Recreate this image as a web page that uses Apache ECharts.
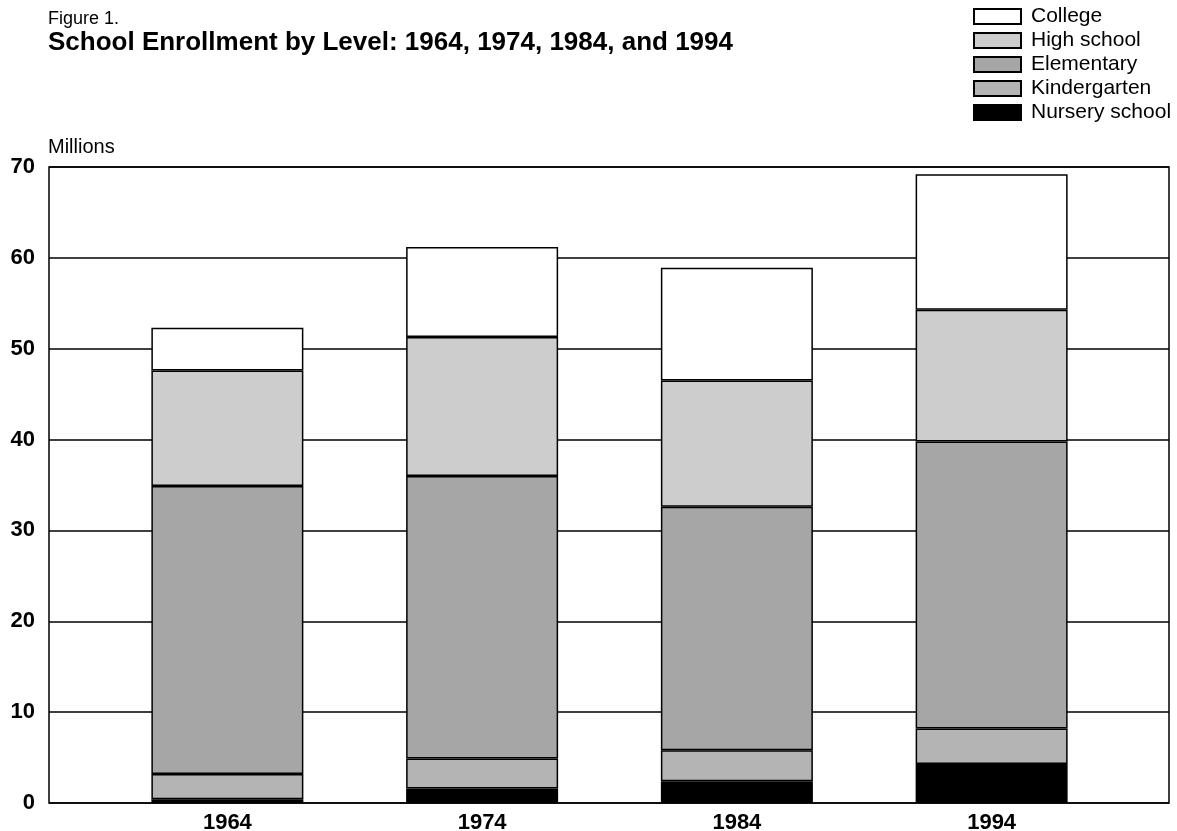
<!DOCTYPE html>
<html>
<head>
<meta charset="utf-8">
<script src="https://cdn.jsdelivr.net/npm/echarts@6/dist/echarts.min.js"></script>
<style>
html,body{margin:0;padding:0;background:#fff}
#chart{width:1177px;height:831px}
</style>
</head>
<body>
<div id="chart"></div>
<script>
// values in millions
const years = ['1964', '1974', '1984', '1994']
const nursery = [0.4, 1.6, 2.4, 4.3]
const kindergarten = [2.8, 3.3, 3.4, 3.9]
const elementary = [31.7, 31.1, 26.8, 31.6]
const highSchool = [12.7, 15.3, 13.9, 14.5]
const college = [4.7, 9.9, 12.4, 14.9]
const yTicks = [0, 10, 20, 30, 40, 50, 60, 70]

const font = 'Liberation Sans, Arial, sans-serif'
const yMin = yTicks[0]
const yMax = yTicks[yTicks.length - 1]
const yStep = yTicks[1] - yTicks[0]

function level (name, data, color) {
  return {
    name: name,
    type: 'bar',
    stack: 'total',
    xAxisIndex: 1,
    yAxisIndex: 1,
    barWidth: 152,
    data: data,
    itemStyle: { color: color, borderColor: '#000', borderWidth: 1.5 }
  }
}

const chart = echarts.init(document.getElementById('chart'))

const options = {
  backgroundColor: '#fff',
  animation: false,
  title: [
    { text: 'Figure 1.', left: 48, top: 10, padding: 0,
      textStyle: { fontFamily: font, fontSize: 18, fontWeight: 'normal', color: '#000' } },
    { text: 'School Enrollment by Level: 1964, 1974, 1984, and 1994', left: 48, top: 30, padding: 0,
      textStyle: { fontFamily: font, fontSize: 26, fontWeight: 'bold', color: '#000' } },
    { text: 'Millions', left: 48, top: 137, padding: 0,
      textStyle: { fontFamily: font, fontSize: 20, fontWeight: 'normal', color: '#000' } }
  ],
  legend: {
    orient: 'vertical',
    left: 973,
    top: 6,
    padding: 0,
    icon: 'rect',
    itemWidth: 47,
    itemHeight: 15,
    itemGap: 3,
    data: ['College', 'High school', 'Elementary', 'Kindergarten', 'Nursery school'],
    textStyle: { fontFamily: font, fontSize: 21, color: '#000', padding: [0, 0, 0, 5] }
  },
  grid: [
    // frame with gridlines
    { left: 49, right: 8, top: 167, bottom: 28, outerBoundsMode: 'none', show: true, borderColor: '#000', borderWidth: 1.5, backgroundColor: 'transparent' },
    // bars, with wider margins on both sides
    { left: 100, right: 58, top: 167, bottom: 28, outerBoundsMode: 'none' }
  ],
  xAxis: [
    { type: 'value', gridIndex: 0, min: 0, max: 1, show: false },
    {
      type: 'category',
      gridIndex: 1,
      data: years,
      axisLine: { show: false },
      axisTick: { show: false },
      axisLabel: { fontFamily: font, fontSize: 22, fontWeight: 'bold', color: '#000', margin: 9 }
    }
  ],
  yAxis: [
    {
      type: 'value',
      gridIndex: 0,
      min: yMin,
      max: yMax,
      interval: yStep,
      axisLine: { show: false },
      axisTick: { show: false },
      axisLabel: { fontFamily: font, fontSize: 22, fontWeight: 'bold', color: '#000', margin: 14 },
      splitLine: { lineStyle: { color: '#000', width: 1.5 } }
    },
    { type: 'value', gridIndex: 1, min: yMin, max: yMax, show: false, splitLine: { show: false } }
  ],
  series: [
    level('Nursery school', nursery, '#000000'),
    level('Kindergarten', kindergarten, '#b4b4b4'),
    level('Elementary', elementary, '#a6a6a6'),
    level('High school', highSchool, '#cdcdcd'),
    level('College', college, '#ffffff')
  ]
}

chart.setOption(options)
</script>
</body>
</html>
